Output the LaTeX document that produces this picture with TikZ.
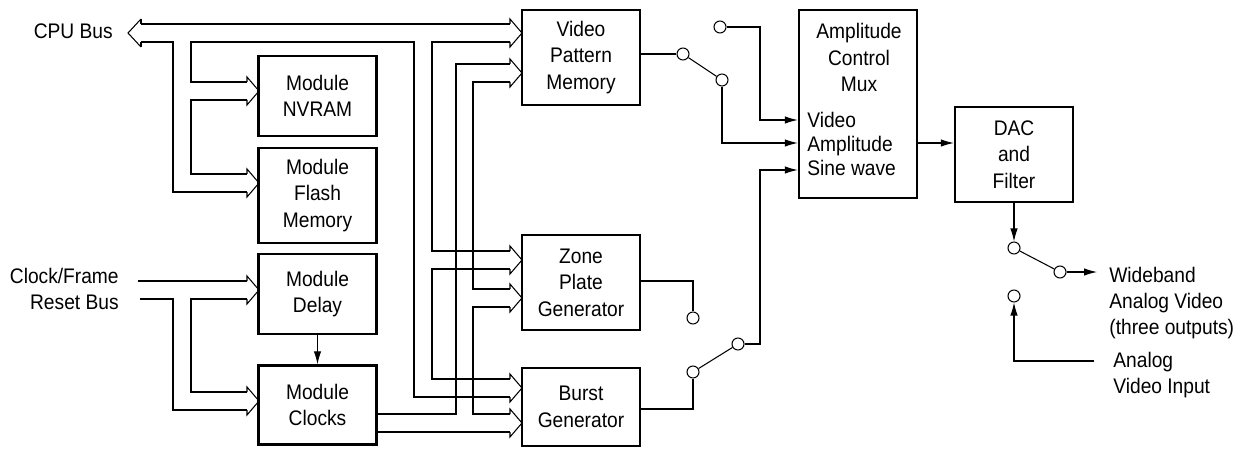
\documentclass[tikz,border=0pt]{standalone}
\usepackage{fontspec}
\setmainfont[FakeStretch=0.91]{Liberation Sans}
\usetikzlibrary{arrows.meta,calc}

\newcommand{\bushead}[2]{\draw[wire] (#1-12,#2-9) -- (#1-12,#2-14) -- (#1,#2) -- (#1-12,#2+14) -- (#1-12,#2+9);}

\begin{document}
\begin{tikzpicture}[x=0.02cm,y=-0.02cm,
  block/.style={draw,line width=1.4pt,minimum width=2.36cm,inner sep=0pt,align=center,font=\fontsize{12}{15}\selectfont},
  wire/.style={draw,line width=0.6pt},
  sig/.style={wire,-{Latex[length=0.26cm,width=0.15cm]}},
  contact/.style={circle,draw,fill=white,line width=0.6pt,minimum size=0.24cm,inner sep=0pt},
  tag/.style={inner sep=0pt,font=\fontsize{12}{15}\selectfont}
]
\useasboundingbox (0,0) rectangle (1239,449);
\node[block,minimum height=1.9cm] (vpm) at (581,57.5) {Video\\Pattern\\Memory};
\node[block,minimum height=1.6cm] (nvram) at (317.5,96) {Module\\NVRAM};
\node[block,minimum height=1.9cm] (flash) at (317.5,195.5) {Module\\Flash\\Memory};
\node[block,minimum height=1.6cm] (delay) at (317.5,294) {Module\\Delay};
\node[block,minimum height=1.58cm] (clocks) at (317.5,405) {Module\\Clocks};
\node[block,minimum height=1.9cm] (zone) at (581,282.5) {Zone\\Plate\\Generator};
\node[block,minimum height=1.56cm] (burst) at (581,407) {Burst\\Generator};
\node[block,minimum height=3.76cm] (amp) at (858,104) {};
\node[block,minimum height=1.9cm] (dac) at (1014,154.5) {DAC\\and\\Filter};
\node[tag,align=center] (amptitle) at (859,57.5) {Amplitude\\Control\\Mux};
\node[tag,align=left,anchor=west,font=\fontsize{12}{13.9}\selectfont] (ampin) at (807,144) {Video\\Amplitude\\Sine wave};
\node[tag,anchor=east] (cpulbl) at (113,31) {CPU Bus};
\node[tag,anchor=east,align=right] (clklbl) at (119,289) {Clock/Frame\\Reset Bus};
\node[tag,anchor=west,align=left] (widelbl) at (1109,303) {Wideband\\Analog Video\\(three outputs)};
\node[tag,anchor=west,align=left] (ainlbl) at (1113,375) {Analog\\Video Input};

\node[contact] (sa) at (683,54) {};
\node[contact] (sb) at (722,80) {};
\node[contact] (sc) at (720,27) {};
\node[contact] (sd) at (693,318) {};
\node[contact] (se) at (693,372) {};
\node[contact] (sf) at (738,344) {};
\node[contact] (sg) at (1014,248) {};
\node[contact] (sh) at (1060,272) {};
\node[contact] (si) at (1014,296) {};
\coordinate (wideend) at (1097,272);
\coordinate (ainend) at (1094,361);

\draw[wire] (141,24) -- (510,24);
\draw[wire] (141,42) -- (173,42) -- (173,192) -- (247,192);
\draw[wire] (247,82) -- (191,82) -- (191,42) -- (414,42) -- (414,397) -- (510,397);
\draw[wire] (247,100) -- (191,100) -- (191,174) -- (247,174);
\draw[wire] (510,42) -- (432,42) -- (432,251) -- (510,251);
\draw[wire] (510,269) -- (432,269) -- (432,379) -- (510,379);
\draw[wire] (141,19) -- (128,33) -- (141,47); \draw[wire] (141,19) -- (141,24); \draw[wire] (141,42) -- (141,47);
\draw[wire] (clocks.east |- 0,414) -- (456,414) -- (456,64) -- (510,64);
\draw[wire] (510,82) -- (473,82) -- (473,289) -- (510,289);
\draw[wire] (510,307) -- (473,307) -- (473,414) -- (510,414);
\draw[wire] (clocks.east |- 0,432) -- (510,432);
\draw[wire] (138,281) -- (247,281);
\draw[wire] (140,299) -- (173,299) -- (173,410) -- (247,410);
\draw[wire] (247,299) -- (191,299) -- (191,392) -- (247,392);
\foreach \y in {33,73,260,298,388,423} {\bushead{522}{\y}}
\foreach \y in {91,183,290,401} {\bushead{259}{\y}}

\draw[sig] (delay.south) -- (clocks.north);
\draw[wire] (vpm.east |- sa) -- (sa);
\draw[wire] (sa) -- (sb);
\draw[sig] (sc) -| (760,120) -- (amp.west |- 0,120);
\draw[sig] (sb) |- (amp.west |- 0,143);
\draw[sig] (sf) -| (760,170) -- (amp.west |- 0,170);
\draw[wire] (se) -- (sf);
\draw[wire] (burst.east |- 0,409) -| (se);
\draw[wire] (zone.east |- 0,281) -| (sd);
\draw[sig] (amp.east |- 0,143) -- (dac.west |- 0,143);
\draw[sig] (dac.south) -- (sg);
\draw[wire] (sg) -- (sh);
\draw[sig] (sh) -- (wideend);
\draw[sig] (ainend) -| (si);
\end{tikzpicture}
\end{document}
